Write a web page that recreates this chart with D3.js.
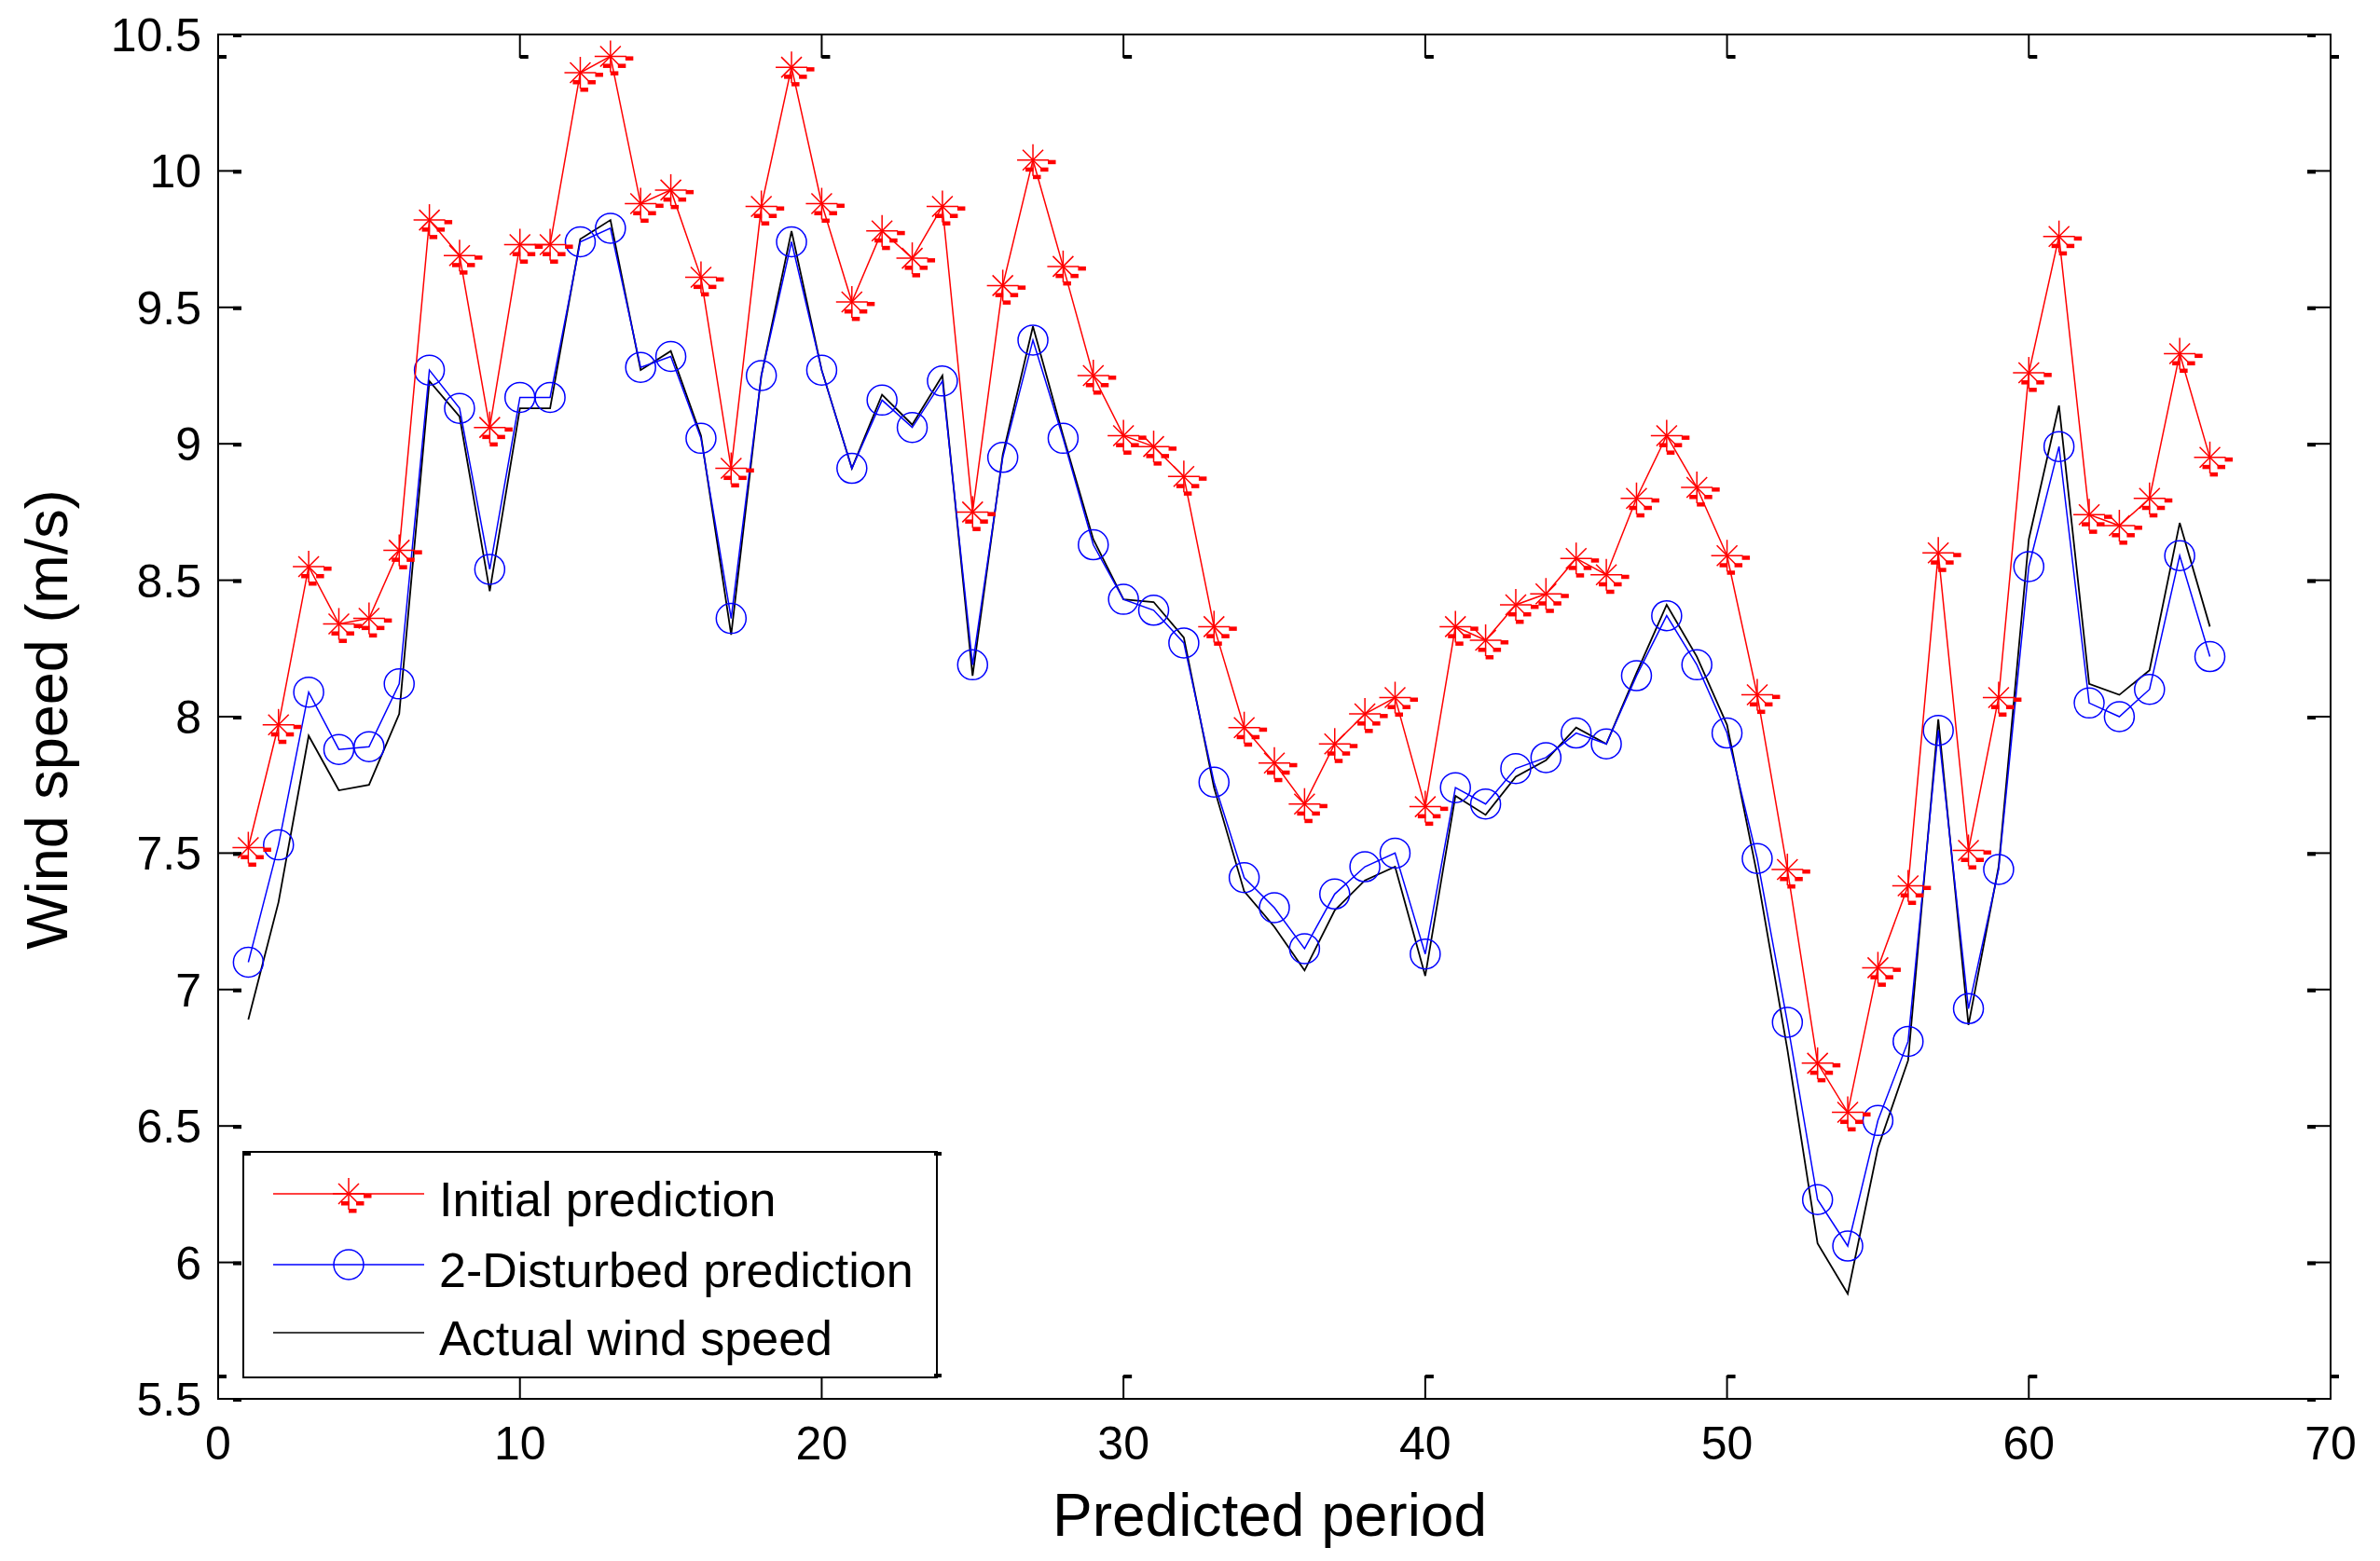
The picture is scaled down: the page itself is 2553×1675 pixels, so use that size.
<!DOCTYPE html>
<html><head><meta charset="utf-8">
<script src="https://cdn.jsdelivr.net/npm/d3@7"></script>
<style>html,body{margin:0;padding:0;background:#fff;}svg{display:block;}text{font-family:"Liberation Sans",Arial,sans-serif;fill:#000;}</style>
</head><body>
<script>
const periods = d3.range(1, 67);
const initialPrediction = [7.52,7.97,8.55,8.34,8.36,8.61,9.82,9.69,9.06,9.73,
  9.73,10.36,10.42,9.88,9.93,9.61,8.91,9.87,10.38,9.88,
  9.52,9.78,9.68,9.87,8.75,9.58,10.04,9.65,9.25,9.03,
  8.99,8.88,8.33,7.96,7.83,7.68,7.90,8.01,8.07,7.67,
  8.33,8.28,8.41,8.45,8.58,8.52,8.80,9.03,8.84,8.59,
  8.08,7.44,6.73,6.55,7.08,7.38,8.60,7.51,8.07,9.26,
  9.76,8.74,8.70,8.80,9.33,8.95];
const disturbedPrediction = [7.10,7.53,8.09,7.88,7.89,8.12,9.27,9.13,8.54,9.17,
  9.17,9.74,9.79,9.28,9.32,9.02,8.36,9.25,9.74,9.27,
  8.91,9.16,9.06,9.23,8.19,8.95,9.38,9.02,8.63,8.43,
  8.39,8.27,7.76,7.41,7.30,7.15,7.35,7.45,7.50,7.13,
  7.74,7.68,7.81,7.85,7.94,7.90,8.15,8.37,8.19,7.94,
  7.48,6.88,6.23,6.06,6.52,6.81,7.95,6.93,7.44,8.55,
  8.99,8.05,8.00,8.10,8.59,8.22];
const actualWindSpeed = [6.89,7.32,7.93,7.73,7.75,8.01,9.23,9.10,8.46,9.13,
  9.13,9.75,9.82,9.27,9.34,9.03,8.30,9.25,9.78,9.27,
  8.91,9.18,9.07,9.25,8.15,8.96,9.43,9.03,8.65,8.43,
  8.42,8.29,7.74,7.36,7.23,7.07,7.29,7.40,7.45,7.05,
  7.71,7.64,7.78,7.84,7.96,7.90,8.16,8.41,8.22,7.97,
  7.42,6.78,6.07,5.885,6.42,6.74,7.99,6.87,7.45,8.65,
  9.14,8.12,8.08,8.17,8.71,8.33];
const xTicks = [0,10,20,30,40,50,60,70];
const yTicks = [5.5,6,6.5,7,7.5,8,8.5,9,9.5,10,10.5];
const seriesNames = ["Initial prediction","2-Disturbed prediction","Actual wind speed"];
const xTitle = "Predicted period";
const yTitle = "Wind speed (m/s)";

const W = 2553, H = 1675;
const L = 234, R = 2500, T = 37, B = 1501;
const svg = d3.select("body").append("svg").attr("width", W).attr("height", H);
const x = d3.scaleLinear().domain([0,70]).range([L,R]);
const y = d3.scaleLinear().domain([5.5,10.5]).range([B,T]);

// ticks (MATLAB style, inside on all four sides)
const tl = 25, tg = svg.append("g").attr("stroke","#000").attr("stroke-width",2);
xTicks.forEach(v => {
  const px = x(v);
  tg.append("line").attr("x1",px).attr("x2",px).attr("y1",B).attr("y2",B-tl);
  tg.append("line").attr("x1",px).attr("x2",px).attr("y1",T).attr("y2",T+tl);
  svg.append("rect").attr("x",px).attr("y",B-tl-1).attr("width",9).attr("height",4).attr("fill","#000");
  svg.append("rect").attr("x",px).attr("y",T+tl-3).attr("width",9).attr("height",4).attr("fill","#000");
});
yTicks.forEach(v => {
  const py = y(v);
  tg.append("line").attr("x1",L).attr("x2",L+tl).attr("y1",py).attr("y2",py);
  tg.append("line").attr("x1",R).attr("x2",R-tl).attr("y1",py).attr("y2",py);
  svg.append("rect").attr("x",L+tl-9).attr("y",py-1).attr("width",9).attr("height",4).attr("fill","#000");
  svg.append("rect").attr("x",R-tl).attr("y",py-1).attr("width",9).attr("height",4).attr("fill","#000");
});
svg.append("rect").attr("x",L).attr("y",T).attr("width",R-L).attr("height",B-T)
  .attr("fill","none").attr("stroke","#000").attr("stroke-width",2);

// tick labels
svg.append("g").selectAll("text").data(xTicks).join("text")
  .attr("x", d => x(d)).attr("y", 1566).attr("text-anchor","middle")
  .attr("font-size", 50).text(d => d);
svg.append("g").selectAll("text").data(yTicks).join("text")
  .attr("x", 216).attr("y", d => y(d) + 18).attr("text-anchor","end")
  .attr("font-size", 50).text(d => d);

// axis titles
svg.append("text").attr("x", 1362).attr("y", 1648).attr("text-anchor","middle")
  .attr("font-size", 64).text(xTitle);
svg.append("text").attr("transform","translate(72,772) rotate(-90)").attr("text-anchor","middle")
  .attr("font-size", 63).text(yTitle);

const line = d3.line().x((d,i) => x(periods[i])).y(d => y(d));

function star(g, cx, cy) {
  const a = 17, dgl = 11;
  const s = g.append("g").attr("stroke","#ff0000").attr("stroke-width",1.5);
  s.append("line").attr("x1",cx-a).attr("x2",cx+a).attr("y1",cy).attr("y2",cy);
  s.append("line").attr("x1",cx).attr("x2",cx).attr("y1",cy-a).attr("y2",cy+a);
  s.append("line").attr("x1",cx-dgl).attr("x2",cx+dgl).attr("y1",cy-dgl).attr("y2",cy+dgl);
  s.append("line").attr("x1",cx-dgl).attr("x2",cx+dgl).attr("y1",cy+dgl).attr("y2",cy-dgl);
  const r = g.append("g").attr("fill","#ff0000");
  [[16,0],[-8,8],[8,8],[0,16]].forEach(([dx,dy]) =>
    r.append("rect").attr("x",cx+dx).attr("y",cy+dy).attr("width",8.5).attr("height",4.5));
}

// actual
svg.append("path").datum(actualWindSpeed).attr("d", line)
  .attr("fill","none").attr("stroke","#000").attr("stroke-width",1.8);
// disturbed
svg.append("path").datum(disturbedPrediction).attr("d", line)
  .attr("fill","none").attr("stroke","#0000ff").attr("stroke-width",1.5);
svg.append("g").selectAll("circle").data(disturbedPrediction).join("circle")
  .attr("cx",(d,i)=>x(periods[i])).attr("cy",d=>y(d)).attr("r",16)
  .attr("fill","none").attr("stroke","#0000ff").attr("stroke-width",1.5);
// initial
svg.append("path").datum(initialPrediction).attr("d", line)
  .attr("fill","none").attr("stroke","#ff0000").attr("stroke-width",1.5);
const sg = svg.append("g");
initialPrediction.forEach((d,i) => star(sg, x(periods[i]), y(d)));

// legend
const lg = svg.append("g");
lg.append("rect").attr("x",261).attr("y",1236).attr("width",744).attr("height",242)
  .attr("fill","#fff").attr("stroke","#000").attr("stroke-width",2);
[[261,1236],[1002,1236],[1002,1474]].forEach(([cx,cy]) =>
  lg.append("rect").attr("x",cx).attr("y",cy).attr("width",8).attr("height",4).attr("fill","#000"));
const rows = [1281,1357,1430], cols = ["#ff0000","#0000ff","#000"];
rows.forEach((ry,i) => {
  lg.append("line").attr("x1",293).attr("x2",455).attr("y1",ry).attr("y2",ry)
    .attr("stroke",cols[i]).attr("stroke-width",1.5);
  lg.append("text").attr("x",471).attr("y",ry+24).attr("font-size",52).text(seriesNames[i]);
});
star(lg, 374, rows[0]);
lg.append("circle").attr("cx",374).attr("cy",rows[1]).attr("r",16)
  .attr("fill","none").attr("stroke","#0000ff").attr("stroke-width",1.5);
</script>
</body></html>
